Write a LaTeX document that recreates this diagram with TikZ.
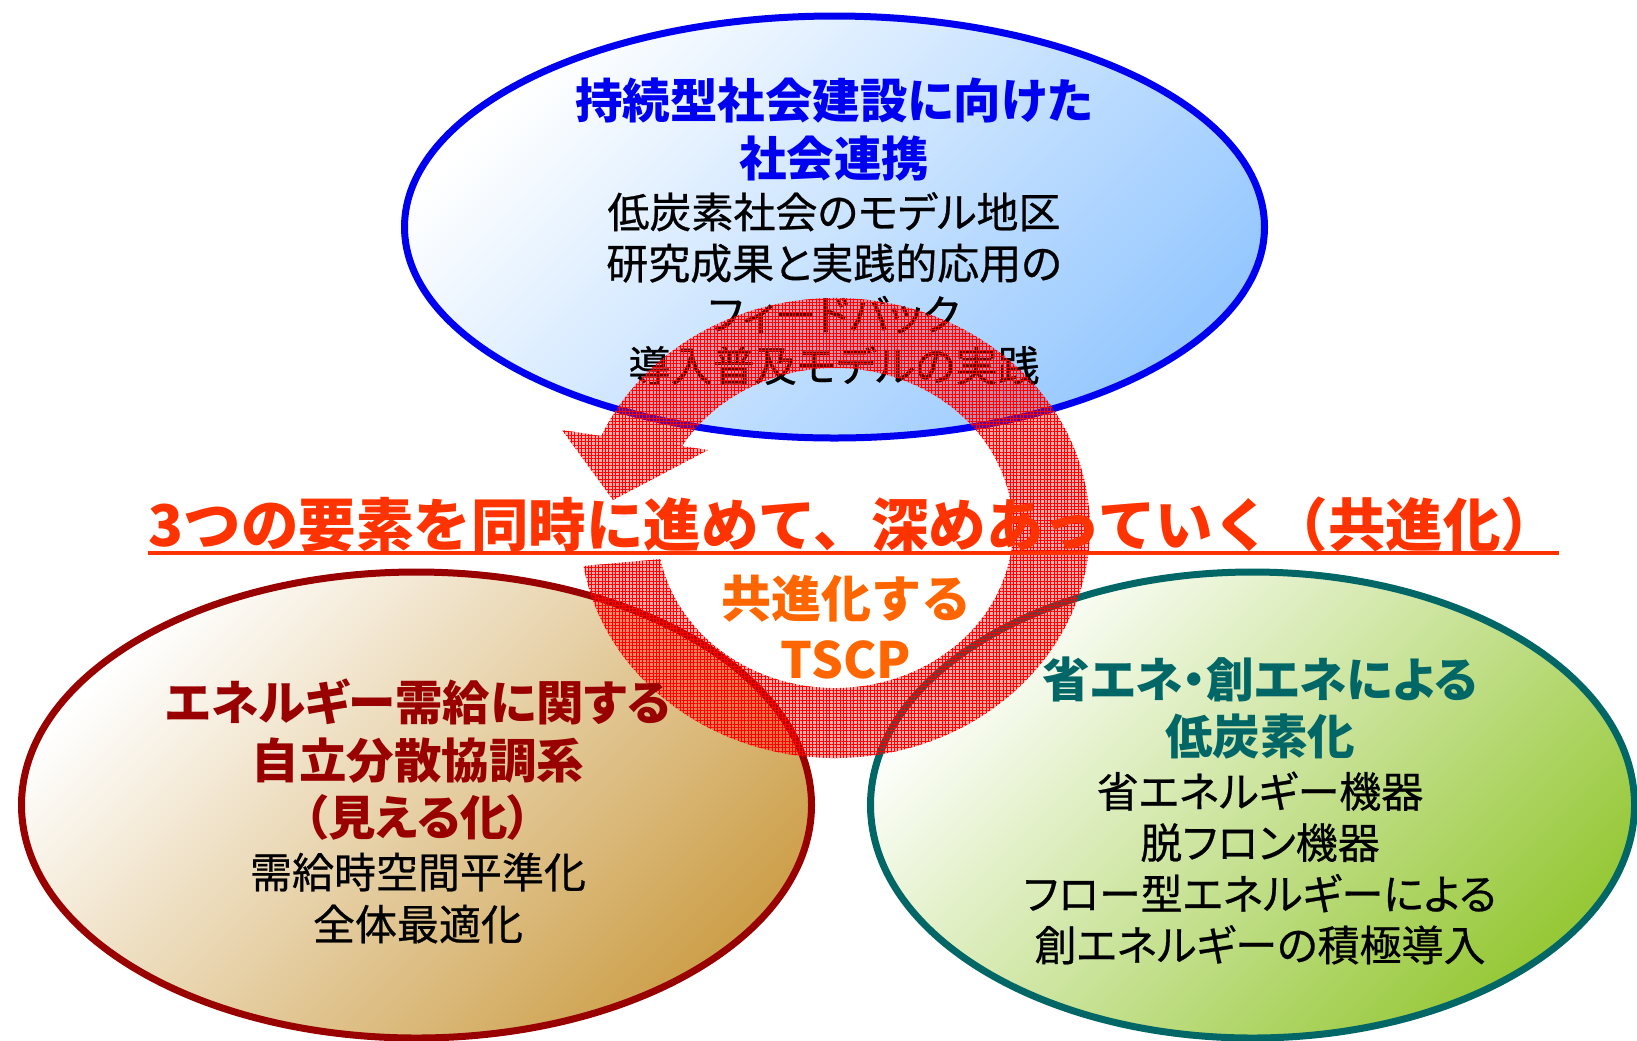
\documentclass[tikz,border=0pt]{standalone}
\usepackage{fontspec}
\setmainfont{Noto Sans CJK JP}
\newfontfamily\jpp{Noto Sans CJK JP}[RawFeature=+palt]
\newfontfamily\jpb{Noto Sans CJK JP}[RawFeature=+palt, FakeBold=0.6]
\usetikzlibrary{shapes.geometric,patterns.meta}
\definecolor{tblue}{RGB}{0,0,240}
\definecolor{tblueF}{RGB}{150,200,255}
\definecolor{dred}{RGB}{153,0,0}
\definecolor{tanF}{RGB}{205,160,75}
\definecolor{teal2}{RGB}{0,102,102}
\definecolor{greenF}{RGB}{150,200,55}
\definecolor{titlered}{RGB}{255,51,0}
\definecolor{orng}{RGB}{255,102,0}
\begin{document}
\begin{tikzpicture}[x=0.5pt,y=-0.5pt,
  blob/.style={ellipse, inner sep=0pt, line width=3.5pt},
  head/.style={align=center, inner sep=0pt, font=\jpp\bfseries\fontsize{23.75pt}{28.75pt}\selectfont},
  body/.style={align=center, inner sep=0pt, font=\jpb\fontsize{21pt}{25.6pt}\selectfont},
  ring/.style={fill=red, fill opacity=0.33,
     postaction={pattern={Hatch[angle=0, distance=1.7pt, line width=0.3pt]}, pattern color=red, fill opacity=0.45}},
  ]
\fill[white] (0,0) rectangle (1637,1040);
\useasboundingbox (0,0) rectangle (1637,1040);

% top ellipse
\node[blob, draw=tblue, top color=white, bottom color=tblueF, shading angle=45,
      minimum width=430pt, minimum height=211pt] (social) at (834.5,227) {};
\node[head, text=tblue, font=\jpp\bfseries\fontsize{23.75pt}{29pt}\selectfont] (socialhead) at (834,130) {持続型社会建設に向けた\\社会連携};
\node[body] (socialbody) at (834,288.5) {低炭素社会のモデル地区\\研究成果と実践的応用の\\フィードバック\\導入普及モデルの実践};

% bottom ellipses
\node[blob, draw=dred, top color=white, bottom color=tanF, shading angle=45,
      minimum width=395pt, minimum height=233pt] (energy) at (416.5,805) {};
\node[blob, draw=teal2, top color=white, bottom color=greenF, shading angle=45,
      minimum width=382pt, minimum height=233pt] (lowcarbon) at (1252.5,805) {};

% circular arrow
\coordinate (rc) at (835,528);
\path[ring] ([shift={(170.5:255 and 230)}]rc)
   arc[start angle=170.5, end angle=-156.4, x radius=255, y radius=230]
   -- (562,430) -- (613,500) -- (708,450)
   -- ([shift={(-149.2:178 and 160)}]rc)
   arc[start angle=-149.2, end angle=168.8, x radius=178, y radius=160]
   -- cycle;

% texts
\node[head, text=dred] (energyhead) at (418,760) {エネルギー需給に関する\\自立分散協調系\\（見える化）};
\node[body, font=\jpb\fontsize{21pt}{26pt}\selectfont] (energybody) at (418,898) {需給時空間平準化\\全体最適化};

\node[head, text=teal2, font=\jpp\bfseries\fontsize{23.75pt}{28.5pt}\selectfont] (lowhead) at (1260,708) {省エネ・創エネによる\\低炭素化};
\node[body] (lowbody) at (1260,868) {省エネルギー機器\\脱フロン機器\\フロー型エネルギーによる\\創エネルギーの積極導入};

\node[inner sep=0pt, text=titlered, font=\bfseries\fontsize{28.75pt}{30pt}\selectfont] (title) at (853.5,525) {3つの要素を同時に進めて、深めあっていく（共進化）};
\draw[titlered, line width=2pt] (title.south west) -- (title.south east);

\node[inner sep=0pt, align=center, text=orng, font=\bfseries\fontsize{25pt}{30.5pt}\selectfont] (tscp) at (846,627.5) {共進化する\\TSCP};
\end{tikzpicture}
\end{document}
